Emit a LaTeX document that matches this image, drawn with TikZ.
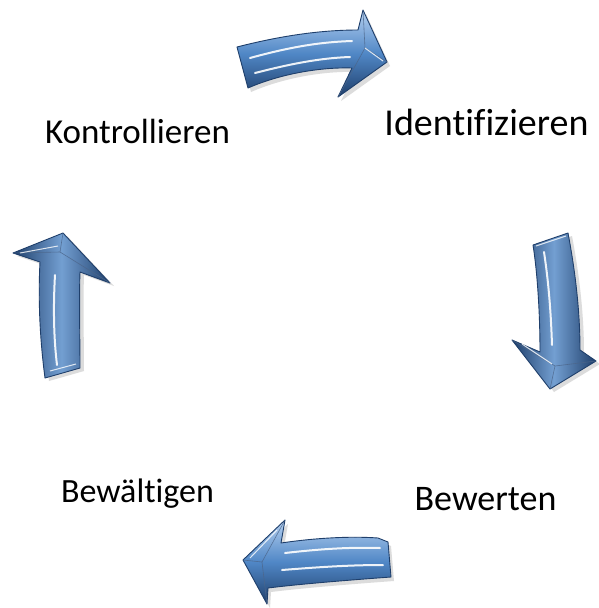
\documentclass[tikz,border=0pt]{standalone}
\usepackage{fontspec}
\setmainfont{Carlito}[Ligatures=NoCommon]
\definecolor{adark}{HTML}{1F3F6B}
\definecolor{amid}{HTML}{5087C6}
\definecolor{alight}{HTML}{B5D0F0}
\tikzset{
  shadowfill/.style={fill=black!30, opacity=0.45},
  arrowbody/.style={draw=adark, line width=0.9pt, line join=round},
  hl/.style={draw=white, line width=2pt, line cap=round, opacity=0.9},
  facet/.style={draw=adark!80, line width=0.6pt, opacity=0.8},
  lbl/.style={anchor=base, text=black, inner sep=0pt},
}
\begin{document}
\begin{tikzpicture}[x=1pt,y=-1pt]
\useasboundingbox (0,0) rectangle (598,608);
\fill[white] (0,0) rectangle (598,608);

% ---------- top arrow (right-pointing)
\begin{scope}[shift={(3,4)}]
\fill[shadowfill] (237,47) .. controls (280,36) and (320,30) .. (358,30) -- (363,10) -- (387,62) -- (338,97) -- (352,68)
  .. controls (320,67) and (280,74) .. (248,88) -- cycle;
\end{scope}
\shade[top color=alight, bottom color=adark, middle color=amid, arrowbody]
  (237,47) .. controls (280,36) and (320,30) .. (358,30) -- (363,10) -- (387,62) -- (338,97) -- (352,68)
  .. controls (320,67) and (280,74) .. (248,88) -- cycle;
\draw[hl] (250,58) .. controls (290,47) and (320,42) .. (352,41);
\draw[hl] (255,73) .. controls (290,64) and (320,58) .. (350,57);
\draw[facet] (363,10) -- (365,48) -- (387,62);
\draw[facet] (365,48) -- (338,97);
\draw[draw=white, line width=1pt, opacity=0.8] (365,48) -- (383,61);

% ---------- right arrow (down-pointing)
\begin{scope}[shift={(4,3)}]
\fill[shadowfill] (533,245) -- (568,233) .. controls (575,270) and (580,310) .. (580,350) -- (596,361) -- (550,389) -- (512,340) -- (540,352)
  .. controls (540,310) and (537,270) .. cycle;
\end{scope}
\shade[left color=adark, right color=adark, middle color=amid!80!white, arrowbody]
  (533,245) -- (568,233) .. controls (575,270) and (580,310) .. (580,350) -- (596,361) -- (550,389) -- (512,340) -- (540,352)
  .. controls (540,310) and (537,270) .. cycle;
\draw[hl] (544,252) .. controls (549,285) and (551,315) .. (552,345);
\draw[draw=white, line width=1pt, opacity=0.8] (536,246) -- (566,236);
\draw[facet] (512,340) -- (555,366) -- (596,361);
\draw[facet] (555,366) -- (550,389);
\draw[draw=white, line width=1pt, opacity=0.8] (522,344) -- (552,364);

% ---------- left arrow (up-pointing)
\begin{scope}[shift={(4,3)}]
\fill[shadowfill] (45,378) .. controls (40,340) and (38,300) .. (40,262) -- (13,253) -- (63,233) -- (110,283) -- (80,272)
  .. controls (79,300) and (80,340) .. (80,368) -- cycle;
\end{scope}
\shade[left color=adark, right color=adark, middle color=amid!80!white, arrowbody]
  (45,378) .. controls (40,340) and (38,300) .. (40,262) -- (13,253) -- (63,233) -- (110,283) -- (80,272)
  .. controls (79,300) and (80,340) .. (80,368) -- cycle;
\draw[hl] (55,275) .. controls (53,310) and (54,340) .. (57,365);
\draw[draw=white, line width=1pt, opacity=0.8] (50,371) -- (76,364);
\draw[facet] (13,253) -- (60,252) -- (110,283);
\draw[facet] (60,252) -- (63,233);
\draw[draw=white, line width=1pt, opacity=0.8] (20,253) -- (58,246);

% ---------- bottom arrow (left-pointing)
\begin{scope}[shift={(3,4)}]
\fill[shadowfill] (243,560) -- (285,520) -- (281,543) .. controls (315,538) and (350,536) .. (378,538) -- (388,542) -- (391,577)
  .. controls (350,580) and (300,584) .. (268,588) -- (267,604) -- cycle;
\end{scope}
\shade[top color=alight, bottom color=adark, middle color=amid, arrowbody]
  (243,560) -- (285,520) -- (281,543) .. controls (315,538) and (350,536) .. (378,538) -- (388,542) -- (391,577)
  .. controls (350,580) and (300,584) .. (268,588) -- (267,604) -- cycle;
\draw[hl] (285,553) .. controls (320,549) and (350,547) .. (380,548);
\draw[hl] (282,570) .. controls (320,567) and (350,565) .. (383,565);
\draw[facet] (285,520) -- (262,562) -- (267,604);
\draw[facet] (243,560) -- (262,562);
\draw[draw=white, line width=1pt, opacity=0.8] (250,558) -- (277,530);

% ---------- labels
\node[lbl, font=\fontsize{35}{40}\selectfont] (kontr) at (137.5,143) {Kontrollieren};
\node[lbl, font=\fontsize{38}{44}\selectfont] (ident) at (486.5,135) {Identifizieren};
\node[lbl, font=\fontsize{34}{40}\selectfont] (bewae) at (137.5,502) {Bewältigen};
\node[lbl, font=\fontsize{36}{42}\selectfont] (bewer) at (485.5,510) {Bewerten};
\end{tikzpicture}
\end{document}
